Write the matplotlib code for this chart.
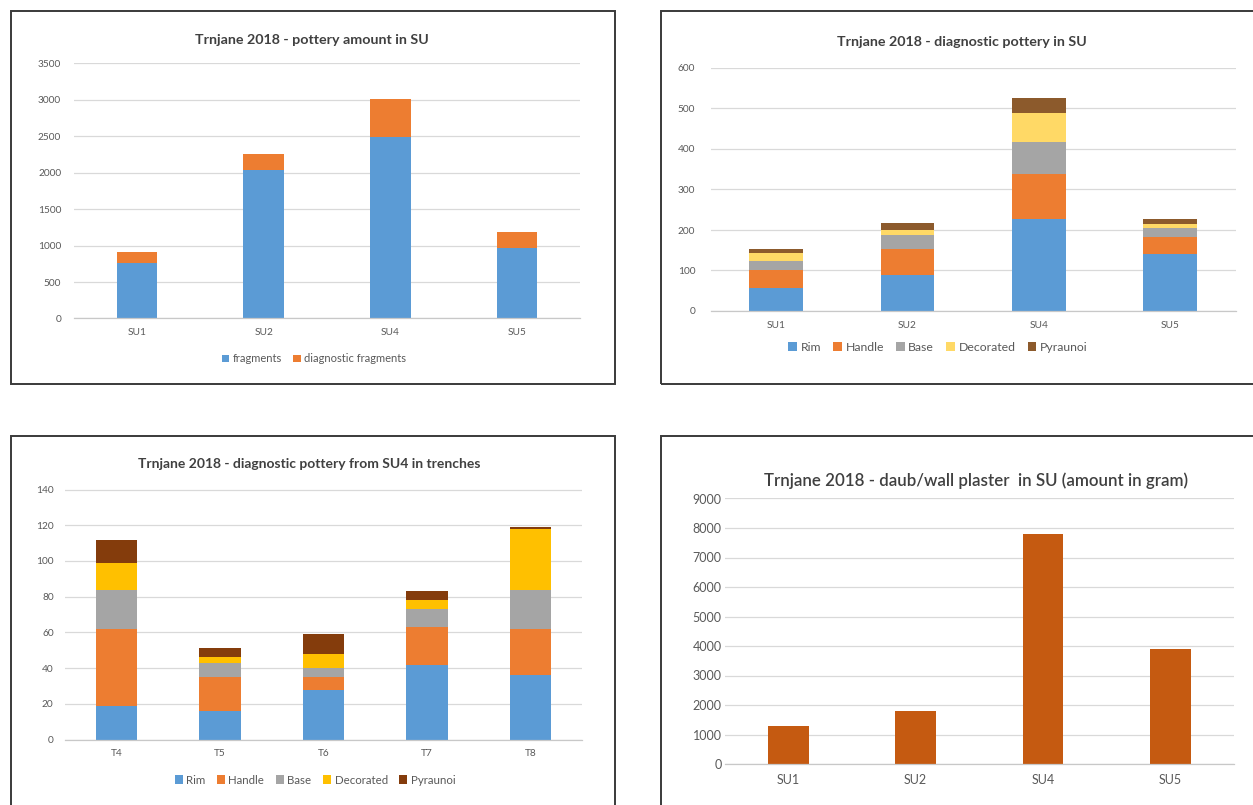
import matplotlib
matplotlib.use("Agg")
import matplotlib.pyplot as plt
from matplotlib.patches import Rectangle, Patch
import numpy as np

plt.rcParams['font.family'] = ['Lato', 'DejaVu Sans']

W, H = 1253, 805

# --- data -------------------------------------------------------------
su_labels = ["SU1", "SU2", "SU4", "SU5"]
fragments = [760, 2040, 2485, 965]
diagnostic_fragments = [155, 218, 527, 227]

diag_types = ["Rim", "Handle", "Base", "Decorated", "Pyraunoi"]
diag_rim = [58, 90, 227, 140]
diag_handle = [44, 64, 111, 43]
diag_base = [22, 34, 79, 23]
diag_decorated = [19, 12, 71, 10]
diag_pyraunoi = [10, 18, 39, 11]

trench_labels = ["T4", "T5", "T6", "T7", "T8"]
tr_rim = [19, 16, 28, 42, 36]
tr_handle = [43, 19, 7, 21, 26]
tr_base = [22, 8, 5, 10, 22]
tr_decorated = [15, 3, 8, 5, 34]
tr_pyraunoi = [13, 5, 11, 5, 1]

daub_grams = [1300, 1780, 7800, 3900]

# --- styling ----------------------------------------------------------
BLUE = "#5B9BD5"
ORANGE = "#ED7D31"
GRAY = "#A5A5A5"
TXT = "#595959"
TITLE = "#404040"


def fig_box(x0, y0, x1, y1):
    """pixel box (top-left origin) -> figure-fraction rect"""
    return [x0 / W, 1 - y1 / H, (x1 - x0) / W, (y1 - y0) / H]


fig = plt.figure(figsize=(W / 100, H / 100), dpi=100)
fig.patch.set_facecolor("white")

# panel frames
for (x0, y0, x1, y1) in [(10.5, 11.5, 615, 384), (660.7, 11.5, 1262, 384),
                         (10.5, 436, 615, 812), (660.7, 436, 1262, 812)]:
    fig.patches.append(Rectangle((x0 / W, 1 - y1 / H), (x1 - x0) / W, (y1 - y0) / H,
                                 transform=fig.transFigure, fill=False,
                                 edgecolor="#3a3a3a", linewidth=1.4, zorder=0))


def style_axes(ax, ymax, step, tick_fs, ypad):
    ax.set_ylim(0, ymax)
    ax.set_yticks(np.arange(0, ymax + step / 2, step))
    ax.yaxis.grid(True, color="#D9D9D9", linewidth=0.9)
    ax.set_axisbelow(True)
    for s in ["top", "right", "left"]:
        ax.spines[s].set_visible(False)
    ax.spines["bottom"].set_color("#C8C8C8")
    ax.spines["bottom"].set_linewidth(0.9)
    ax.tick_params(axis="both", length=0, labelsize=tick_fs, colors=TXT)
    ax.tick_params(axis="y", pad=ypad)
    ax.tick_params(axis="x", pad=7)
    ax.set_facecolor("none")


def stacked(ax, labels, series, colors, width):
    x = np.arange(len(labels))
    bottom = np.zeros(len(labels))
    for vals, c in zip(series, colors):
        ax.bar(x, vals, width, bottom=bottom, color=c, linewidth=0)
        bottom += np.array(vals)
    ax.set_xticks(x)
    ax.set_xticklabels(labels)
    ax.set_xlim(-0.5, len(labels) - 0.5)


def legend(names, colors, cx, cy, fs):
    handles = [Patch(facecolor=c, edgecolor="none", label=n) for n, c in zip(names, colors)]
    fig.legend(handles=handles, loc="center", bbox_to_anchor=(cx / W, 1 - cy / H),
               ncol=len(names), frameon=False, fontsize=fs, labelcolor=TXT,
               handlelength=0.7, handleheight=0.7, handletextpad=0.3,
               columnspacing=1.0, borderpad=0)


# 1) pottery amount
ax1 = fig.add_axes(fig_box(73.7, 63.3, 580.3, 318.5))
stacked(ax1, su_labels, [fragments, diagnostic_fragments], [BLUE, ORANGE], 0.32)
style_axes(ax1, 3500, 500, 7.3, 9)
fig.text(312 / W, 1 - 40 / H, "Trnjane 2018 - pottery amount in SU", ha="center",
         va="center", fontsize=10.3, fontweight="bold", color=TITLE)
legend(["fragments", "diagnostic fragments"], [BLUE, ORANGE], 314, 359, 8)

# 2) diagnostic pottery per SU
ax2 = fig.add_axes(fig_box(710.5, 68, 1236, 311))
stacked(ax2, su_labels, [diag_rim, diag_handle, diag_base, diag_decorated, diag_pyraunoi],
        [BLUE, ORANGE, GRAY, "#FFD966", "#8C5A2C"], 0.41)
style_axes(ax2, 600, 100, 7.3, 11)
fig.text(962 / W, 1 - 42 / H, "Trnjane 2018 - diagnostic pottery in SU", ha="center",
         va="center", fontsize=10.3, fontweight="bold", color=TITLE)
legend(diag_types, [BLUE, ORANGE, GRAY, "#FFD966", "#8C5A2C"], 938, 347, 8.8)

# 3) diagnostic pottery from SU4 by trench
ax3 = fig.add_axes(fig_box(64.75, 489.5, 582.25, 739.5))
stacked(ax3, trench_labels, [tr_rim, tr_handle, tr_base, tr_decorated, tr_pyraunoi],
        [BLUE, ORANGE, GRAY, "#FFC000", "#843C0C"], 0.405)
style_axes(ax3, 140, 20, 7.3, 8)
fig.text(309 / W, 1 - 464 / H, "Trnjane 2018 - diagnostic pottery from SU4 in trenches",
         ha="center", va="center", fontsize=10, fontweight="bold", color=TITLE)
legend(diag_types, [BLUE, ORANGE, GRAY, "#FFC000", "#843C0C"], 315, 780, 8.3)

# 4) daub / wall plaster
ax4 = fig.add_axes(fig_box(724.5, 498.5, 1234, 764))
stacked(ax4, su_labels, [daub_grams], ["#C55A11"], 0.32)
style_axes(ax4, 9000, 1000, 9, 2)
fig.text(976 / W, 1 - 481 / H, "Trnjane 2018 - daub/wall plaster  in SU (amount in gram)",
         ha="center", va="center", fontsize=12.2, fontweight="semibold", color=TITLE)

fig.savefig("out.png", dpi=100, facecolor="white")
